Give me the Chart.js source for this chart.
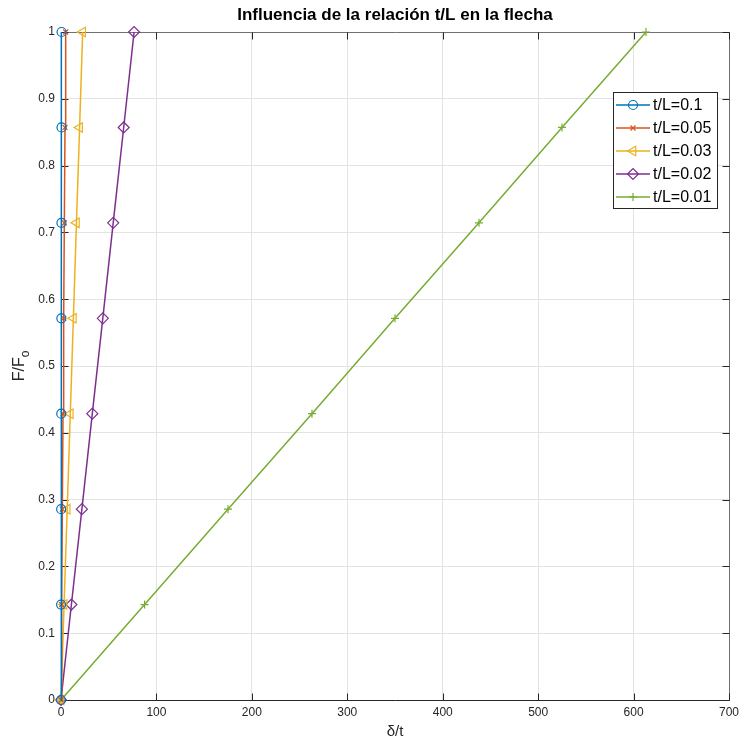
<!DOCTYPE html>
<html><head><meta charset="utf-8">
<script src="https://cdn.jsdelivr.net/npm/chart.js@4/dist/chart.umd.min.js"></script>
<style>html,body{margin:0;padding:0;background:#fff;}#wrap{width:739px;height:745px;}</style>
</head><body><div id="wrap"><canvas id="c" width="739" height="745"></canvas></div>
<script>
const titleText = 'Influencia de la relación t/L en la flecha';
const xLabel = 'δ/t';
const yLabelMain = 'F/F';
const yLabelSub = 'o';
const yVals = [0, 0.1429, 0.2857, 0.4286, 0.5714, 0.7143, 0.8571, 1];
const seriesNames = ['t/L=0.1', 't/L=0.05', 't/L=0.03', 't/L=0.02', 't/L=0.01'];
const x_01 = [0, 0.09, 0.18, 0.26, 0.35, 0.44, 0.53, 0.61];
const x_005 = [0, 0.70, 1.40, 2.10, 2.80, 3.50, 4.20, 4.90];
const x_003 = [0, 3.24, 6.49, 9.73, 12.97, 16.2, 19.5, 22.7];
const x_002 = [0, 10.9, 21.9, 32.8, 43.8, 54.7, 65.7, 76.6];
const x_001 = [0, 87.6, 175, 263, 350, 438, 525, 613];
const xSeries = [x_01, x_005, x_003, x_002, x_001];
const colors = ['#0072BD', '#D95319', '#EDB120', '#7E2F8E', '#77AC30'];
const markers = ['circle', 'crossRot', 'triangle', 'rectRot', 'cross'];
const rotations = [0, 0, -90, 0, 0];
const radii = [4.5, 3.5, 5.5, 5.5, 4];

const datasets = xSeries.map((xs, i) => ({
  label: seriesNames[i],
  data: xs.map((x, j) => ({x: x, y: yVals[j]})),
  borderColor: colors[i],
  backgroundColor: 'rgba(0,0,0,0)',
  pointBorderColor: colors[i],
  pointBackgroundColor: 'rgba(0,0,0,0)',
  pointStyle: markers[i],
  pointRotation: rotations[i],
  pointRadius: radii[i],
  pointBorderWidth: 1.2,
  borderWidth: 1.5,
  showLine: true,
  tension: 0,
  clip: false
}));

const font = 'Liberation Sans, Arial, Helvetica, sans-serif';

const decor = {
  id: 'decor',
  beforeDatasetsDraw(chart) {
    const ctx = chart.ctx;
    const a = chart.chartArea;
    const xs = chart.scales.x, ys = chart.scales.y;
    ctx.save();
    const L = Math.round(a.left) + 0.5, R = Math.round(a.right) + 0.5;
    const T = Math.round(a.top) + 0.5, B = Math.round(a.bottom) + 0.5;
    ctx.lineWidth = 1;
    ctx.strokeStyle = '#707070';
    ctx.beginPath(); ctx.moveTo(L, T); ctx.lineTo(R, T); ctx.lineTo(R, B); ctx.stroke();
    ctx.strokeStyle = '#262626';
    ctx.beginPath(); ctx.moveTo(L, T); ctx.lineTo(L, B); ctx.lineTo(R, B); ctx.stroke();
    ctx.beginPath();
    xs.ticks.forEach(t => {
      const px = Math.round(xs.getPixelForValue(t.value)) + 0.5;
      ctx.moveTo(px, B); ctx.lineTo(px, B - 7);
      ctx.moveTo(px, T); ctx.lineTo(px, T + 7);
    });
    ys.ticks.forEach(t => {
      const py = Math.round(ys.getPixelForValue(t.value)) + 0.5;
      ctx.moveTo(L, py); ctx.lineTo(L + 7, py);
      ctx.moveTo(R, py); ctx.lineTo(R - 7, py);
    });
    ctx.stroke();
    ctx.restore();
  },
  afterDraw(chart) {
    const ctx = chart.ctx;
    const a = chart.chartArea;
    ctx.save();
    // title
    ctx.fillStyle = '#000';
    ctx.font = 'bold 17px ' + font;
    ctx.textAlign = 'center'; ctx.textBaseline = 'middle';
    ctx.fillText(titleText, (a.left + a.right) / 2, 15);
    // x label
    ctx.fillStyle = '#262626';
    ctx.font = '15px ' + font;
    ctx.fillText(xLabel, (a.left + a.right) / 2, 732);
    // y label
    ctx.save();
    ctx.translate(20, (a.top + a.bottom) / 2);
    ctx.rotate(-Math.PI / 2);
    ctx.font = '16px ' + font;
    const w1 = ctx.measureText(yLabelMain).width;
    ctx.font = '12px ' + font;
    const w2 = ctx.measureText(yLabelSub).width;
    const start = -(w1 + w2) / 2;
    ctx.textAlign = 'left';
    ctx.font = '16px ' + font;
    ctx.fillText(yLabelMain, start, 0);
    ctx.font = '12px ' + font;
    ctx.fillText(yLabelSub, start + w1, 6);
    ctx.restore();
    // legend
    const lx = 613, ly = 92, lw = 104, lh = 116;
    ctx.fillStyle = '#fff';
    ctx.fillRect(lx, ly, lw, lh);
    ctx.strokeStyle = '#262626';
    ctx.lineWidth = 1;
    ctx.strokeRect(lx + 0.5, ly + 0.5, lw, lh);
    ctx.textAlign = 'left'; ctx.textBaseline = 'middle';
    seriesNames.forEach((n, i) => {
      const cy = ly + 13 + i * 23;
      ctx.strokeStyle = colors[i];
      ctx.lineWidth = 1.5;
      ctx.beginPath(); ctx.moveTo(lx + 3, cy); ctx.lineTo(lx + 37, cy); ctx.stroke();
      ctx.lineWidth = 1.2;
      ctx.fillStyle = 'rgba(0,0,0,0)';
      Chart.helpers.drawPoint(ctx, {pointStyle: markers[i], rotation: rotations[i], radius: radii[i], borderWidth: 1.2}, lx + 20, cy);
      ctx.fillStyle = '#000';
      ctx.font = '16px ' + font;
      ctx.fillText(n, lx + 40, cy + 1);
    });
    ctx.restore();
  }
};

new Chart(document.getElementById('c'), {
  type: 'scatter',
  data: {datasets},
  options: {
    responsive: false,
    animation: false,
    devicePixelRatio: 1,
    layout: {padding: {left: 0, right: 10, top: 32, bottom: 0}},
    plugins: {legend: {display: false}, tooltip: {enabled: false}, title: {display: false}},
    scales: {
      x: {
        type: 'linear', min: 0, max: 700,
        ticks: {stepSize: 100, color: '#262626', font: {family: font, size: 12}, maxRotation: 0, padding: 5},
        grid: {color: '#e3e3e3', drawTicks: false, lineWidth: 1},
        border: {display: false},
        afterFit(s) { s.height = 45; s.paddingLeft = 0; s.paddingRight = 0; }
      },
      y: {
        type: 'linear', min: 0, max: 1,
        ticks: {stepSize: 0.1, color: '#262626', font: {family: font, size: 12}, padding: 6,
          callback: v => (Math.round(v * 10) / 10).toString()},
        grid: {color: '#e3e3e3', drawTicks: false, lineWidth: 1},
        border: {display: false},
        afterFit(s) { s.width = 61; s.paddingTop = 0; s.paddingBottom = 0; }
      }
    }
  },
  plugins: [decor]
});
</script></body></html>
